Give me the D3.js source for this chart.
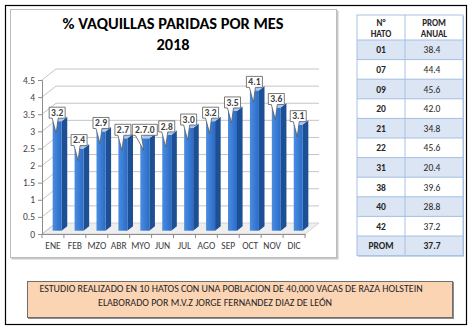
<!DOCTYPE html>
<html>
<head>
<meta charset="utf-8">
<script src="https://cdn.jsdelivr.net/npm/d3@7"></script>
<style>
  body { margin: 0; background: #fff; }
  text { font-family: Carlito, Calibri, Lato, "Open Sans", sans-serif; }
</style>
</head>
<body>
<div id="chart-area"></div>
<script>
// data
var months = ["ENE", "FEB", "MZO", "ABR", "MYO", "JUN", "JUL", "AGO", "SEP", "OCT", "NOV", "DIC"];
var values = [3.2, 2.4, 2.9, 2.7, 2.7, 2.8, 3.0, 3.2, 3.5, 4.1, 3.6, 3.1];
var valueLabels = ["3.2", "2.4", "2.9", "2.7", "2.7.0", "2.8", "3.0", "3.2", "3.5", "4.1", "3.6", "3.1"];
var yTicks = [0, 0.5, 1, 1.5, 2, 2.5, 3, 3.5, 4, 4.5];

var hatos = ["01", "07", "09", "20", "21", "22", "31", "38", "40", "42"];
var promAnual = ["38.4", "44.4", "45.6", "42.0", "34.8", "45.6", "20.4", "39.6", "28.8", "37.2"];
var promTotal = "37.7";

var svg = d3.select("#chart-area")
    .append("svg")
    .attr("width", 472)
    .attr("height", 331);

// outer frame
svg.append("rect")
    .attr("x", 5.5).attr("y", 5.5)
    .attr("width", 461).attr("height", 319)
    .attr("fill", "none")
    .attr("stroke", "#000")
    .attr("stroke-width", 1.2);

// chart box with small shadow
svg.append("rect")
    .attr("x", 11.5).attr("y", 10.5)
    .attr("width", 327).attr("height", 249)
    .attr("fill", "#c8c8c8");
svg.append("rect")
    .attr("x", 10.5).attr("y", 9.5)
    .attr("width", 326).attr("height", 248)
    .attr("fill", "#fff")
    .attr("stroke", "#bcbcbc");

// title
svg.append("text")
    .attr("x", 173).attr("y", 29)
    .attr("text-anchor", "middle")
    .attr("font-size", "16.4px")
    .attr("font-weight", "bold")
    .attr("fill", "#000")
    .text("% VAQUILLAS PARIDAS POR MES");
svg.append("text")
    .attr("x", 173).attr("y", 50)
    .attr("text-anchor", "middle")
    .attr("font-size", "16.4px")
    .attr("font-weight", "bold")
    .attr("fill", "#000")
    .text("2018");

// 3d plot
var dx = 14, dy = -11;

var x = d3.scaleBand()
    .domain(months)
    .range([42, 305]);

var y = d3.scaleLinear()
    .domain([0, 4.5])
    .range([234, 80]);

var g = svg.append("g");

// floor
g.append("polygon")
    .attr("points", [[42, 234], [305, 234], [305 + dx, 234 + dy], [42 + dx, 234 + dy]].join(" "))
    .attr("fill", "#eeeeee")
    .attr("stroke", "#d4d4d4");

// side wall lines + back wall gridlines
yTicks.forEach(function(t) {
    g.append("line")
        .attr("x1", 42).attr("y1", y(t))
        .attr("x2", 42 + dx).attr("y2", y(t) + dy)
        .attr("stroke", "#c4c4c4");
    if (t > 0) {
        g.append("line")
            .attr("x1", 42 + dx).attr("y1", y(t) + dy)
            .attr("x2", 305 + dx).attr("y2", y(t) + dy)
            .attr("stroke", "#c4c4c4");
    }
});

// y axis
var yAxisCall = d3.axisLeft(y)
    .tickValues(yTicks)
    .tickSize(4)
    .tickPadding(3)
    .tickFormat(function(d) { return String(d); });
var yAxis = g.append("g")
    .attr("transform", "translate(42,0)")
    .call(yAxisCall);
yAxis.select(".domain").attr("stroke", "#8c8c8c");
yAxis.selectAll(".tick line").attr("stroke", "#8c8c8c");
yAxis.selectAll("text")
    .attr("font-size", "9.5px")
    .attr("fill", "#404040")
    .style("font-family", "Carlito, Calibri, Lato, sans-serif");

// x axis
var xAxisCall = d3.axisBottom(x)
    .tickSize(0)
    .tickPadding(8);
var xAxis = g.append("g")
    .attr("transform", "translate(0,234)")
    .call(xAxisCall);
xAxis.select(".domain").attr("stroke", "#8c8c8c");
xAxis.selectAll("text")
    .attr("font-size", "9.5px")
    .attr("fill", "#404040")
    .style("font-family", "Carlito, Calibri, Lato, sans-serif");

// tick marks between categories
g.selectAll(".xtick")
    .data(months.concat(["end"]))
    .enter()
    .append("line")
    .attr("class", "xtick")
    .attr("x1", function(d, i) { return 42 + i * x.bandwidth(); })
    .attr("x2", function(d, i) { return 42 + i * x.bandwidth(); })
    .attr("y1", 234)
    .attr("y2", 238)
    .attr("stroke", "#8c8c8c");

// bars
var barW = 9, sideX = 0.4 * dx, sideY = 0.4 * dy;
var offX = 0.3 * dx, offY = 0.3 * dy;

var defs = svg.append("defs");
var grad = defs.append("linearGradient")
    .attr("id", "front")
    .attr("x1", "0").attr("x2", "1").attr("y1", "0").attr("y2", "0");
grad.append("stop").attr("offset", "0%").attr("stop-color", "#4a8de0");
grad.append("stop").attr("offset", "100%").attr("stop-color", "#2a6cc6");

var bars = g.selectAll(".bar")
    .data(values)
    .enter()
    .append("g")
    .attr("class", "bar");

function cxOf(i) { return x(months[i]) + x.bandwidth() / 2 + offX; }
var bottom = 234 + offY;

bars.append("polygon")
    .attr("points", function(d, i) {
        var cx = cxOf(i), top = y(d) + offY;
        return [[cx + barW / 2, top], [cx + barW / 2 + sideX, top + sideY],
                [cx + barW / 2 + sideX, bottom + sideY], [cx + barW / 2, bottom]].join(" ");
    })
    .attr("fill", "#1d4f94");

bars.append("rect")
    .attr("x", function(d, i) { return cxOf(i) - barW / 2; })
    .attr("y", function(d) { return y(d) + offY; })
    .attr("width", barW)
    .attr("height", function(d) { return bottom - (y(d) + offY); })
    .attr("fill", "url(#front)");

bars.append("polygon")
    .attr("points", function(d, i) {
        var cx = cxOf(i), top = y(d) + offY;
        return [[cx - barW / 2, top], [cx + barW / 2, top],
                [cx + barW / 2 + sideX, top + sideY], [cx - barW / 2 + sideX, top + sideY]].join(" ");
    })
    .attr("fill", "#a9c8ef");

// callouts
var callouts = g.selectAll(".callout")
    .data(values)
    .enter()
    .append("g")
    .attr("class", "callout");

callouts.each(function(d, i) {
    var el = d3.select(this);
    var cx = cxOf(i), top = y(d) + offY;
    var label = valueLabels[i];
    var w = label.length > 3 ? 25 : 16, h = 11;
    var bx = cx - w / 2, bb = top - 3, bt = bb - h;
    el.append("path")
        .attr("d", "M" + bx + "," + bt +
            "H" + (bx + w) + "V" + bb +
            "H" + (bx + 9) +
            "L" + (cx - 1) + "," + (top + 12) +
            "L" + (bx + 3) + "," + bb +
            "H" + bx + "Z")
        .attr("fill", "#fff")
        .attr("stroke", "#595959")
        .attr("stroke-width", 0.8);
    el.append("text")
        .attr("x", bx + w / 2)
        .attr("y", bb - 2.3)
        .attr("text-anchor", "middle")
        .attr("font-size", "9.5px")
        .attr("font-weight", "bold")
        .attr("fill", "#404040")
        .text(label);
});

// table
var tx = 357, tc = 405, tr = 463, ty = 15, hh = 25, rh = 19.6;
var rows = hatos.map(function(h, i) { return [h, promAnual[i]]; });
rows.push(["PROM", promTotal]);

var tg = svg.append("g");
tg.append("rect")
    .attr("x", tx + 1).attr("y", ty + 1)
    .attr("width", tr - tx).attr("height", hh + rows.length * rh)
    .attr("fill", "#a7bfde");
tg.append("rect")
    .attr("x", tx).attr("y", ty)
    .attr("width", tr - tx).attr("height", hh)
    .attr("fill", "#fff");

rows.forEach(function(r, i) {
    var ry = ty + hh + i * rh;
    tg.append("rect")
        .attr("x", tx).attr("y", ry)
        .attr("width", tr - tx).attr("height", rh)
        .attr("fill", i % 2 === 0 ? "#dbe5f3" : "#fff");
    tg.append("line")
        .attr("x1", tx).attr("x2", tr)
        .attr("y1", ry).attr("y2", ry)
        .attr("stroke", "#a6c1e3");
    tg.append("text")
        .attr("x", (tx + tc) / 2).attr("y", ry + rh / 2 + 3.5)
        .attr("text-anchor", "middle")
        .attr("font-size", "9.5px")
        .attr("font-weight", "bold")
        .attr("fill", "#262626")
        .text(r[0]);
    tg.append("text")
        .attr("x", 432).attr("y", ry + rh / 2 + 3.5)
        .attr("text-anchor", "middle")
        .attr("font-size", "9.5px")
        .attr("font-weight", i === rows.length - 1 ? "bold" : "normal")
        .attr("fill", "#262626")
        .text(r[1]);
});

tg.append("line")
    .attr("x1", tc).attr("x2", tc)
    .attr("y1", ty).attr("y2", ty + hh + rows.length * rh)
    .attr("stroke", "#a6c1e3");
tg.append("rect")
    .attr("x", tx).attr("y", ty)
    .attr("width", tr - tx).attr("height", hh + rows.length * rh)
    .attr("fill", "none")
    .attr("stroke", "#a6c1e3");

[["N°", "HATO", (tx + tc) / 2], ["PROM", "ANUAL", 434]].forEach(function(hd) {
    tg.append("text")
        .attr("x", hd[2]).attr("y", ty + 11)
        .attr("text-anchor", "middle")
        .attr("font-size", "9px")
        .attr("font-weight", "bold")
        .attr("fill", "#262626")
        .text(hd[0]);
    tg.append("text")
        .attr("x", hd[2]).attr("y", ty + 22)
        .attr("text-anchor", "middle")
        .attr("font-size", "9px")
        .attr("font-weight", "bold")
        .attr("fill", "#262626")
        .text(hd[1]);
});

// note box
svg.append("rect")
    .attr("x", 28).attr("y", 282)
    .attr("width", 426).attr("height", 37)
    .attr("fill", "#8c8c8c");
svg.append("rect")
    .attr("x", 27.5).attr("y", 281.5)
    .attr("width", 425).attr("height", 36)
    .attr("fill", "#fbd4b4")
    .attr("stroke", "#6e6e6e");
svg.append("text")
    .attr("x", 231).attr("y", 291.5)
    .attr("text-anchor", "middle")
    .attr("font-size", "10px")
    .attr("fill", "#262626")
    .text("ESTUDIO REALIZADO EN 10 HATOS CON UNA POBLACION DE 40,000 VACAS DE RAZA HOLSTEIN");
svg.append("text")
    .attr("x", 215).attr("y", 305.5)
    .attr("text-anchor", "middle")
    .attr("font-size", "10px")
    .attr("fill", "#262626")
    .text("ELABORADO POR M.V.Z JORGE FERNANDEZ DIAZ DE LEÓN");
</script>
</body>
</html>
